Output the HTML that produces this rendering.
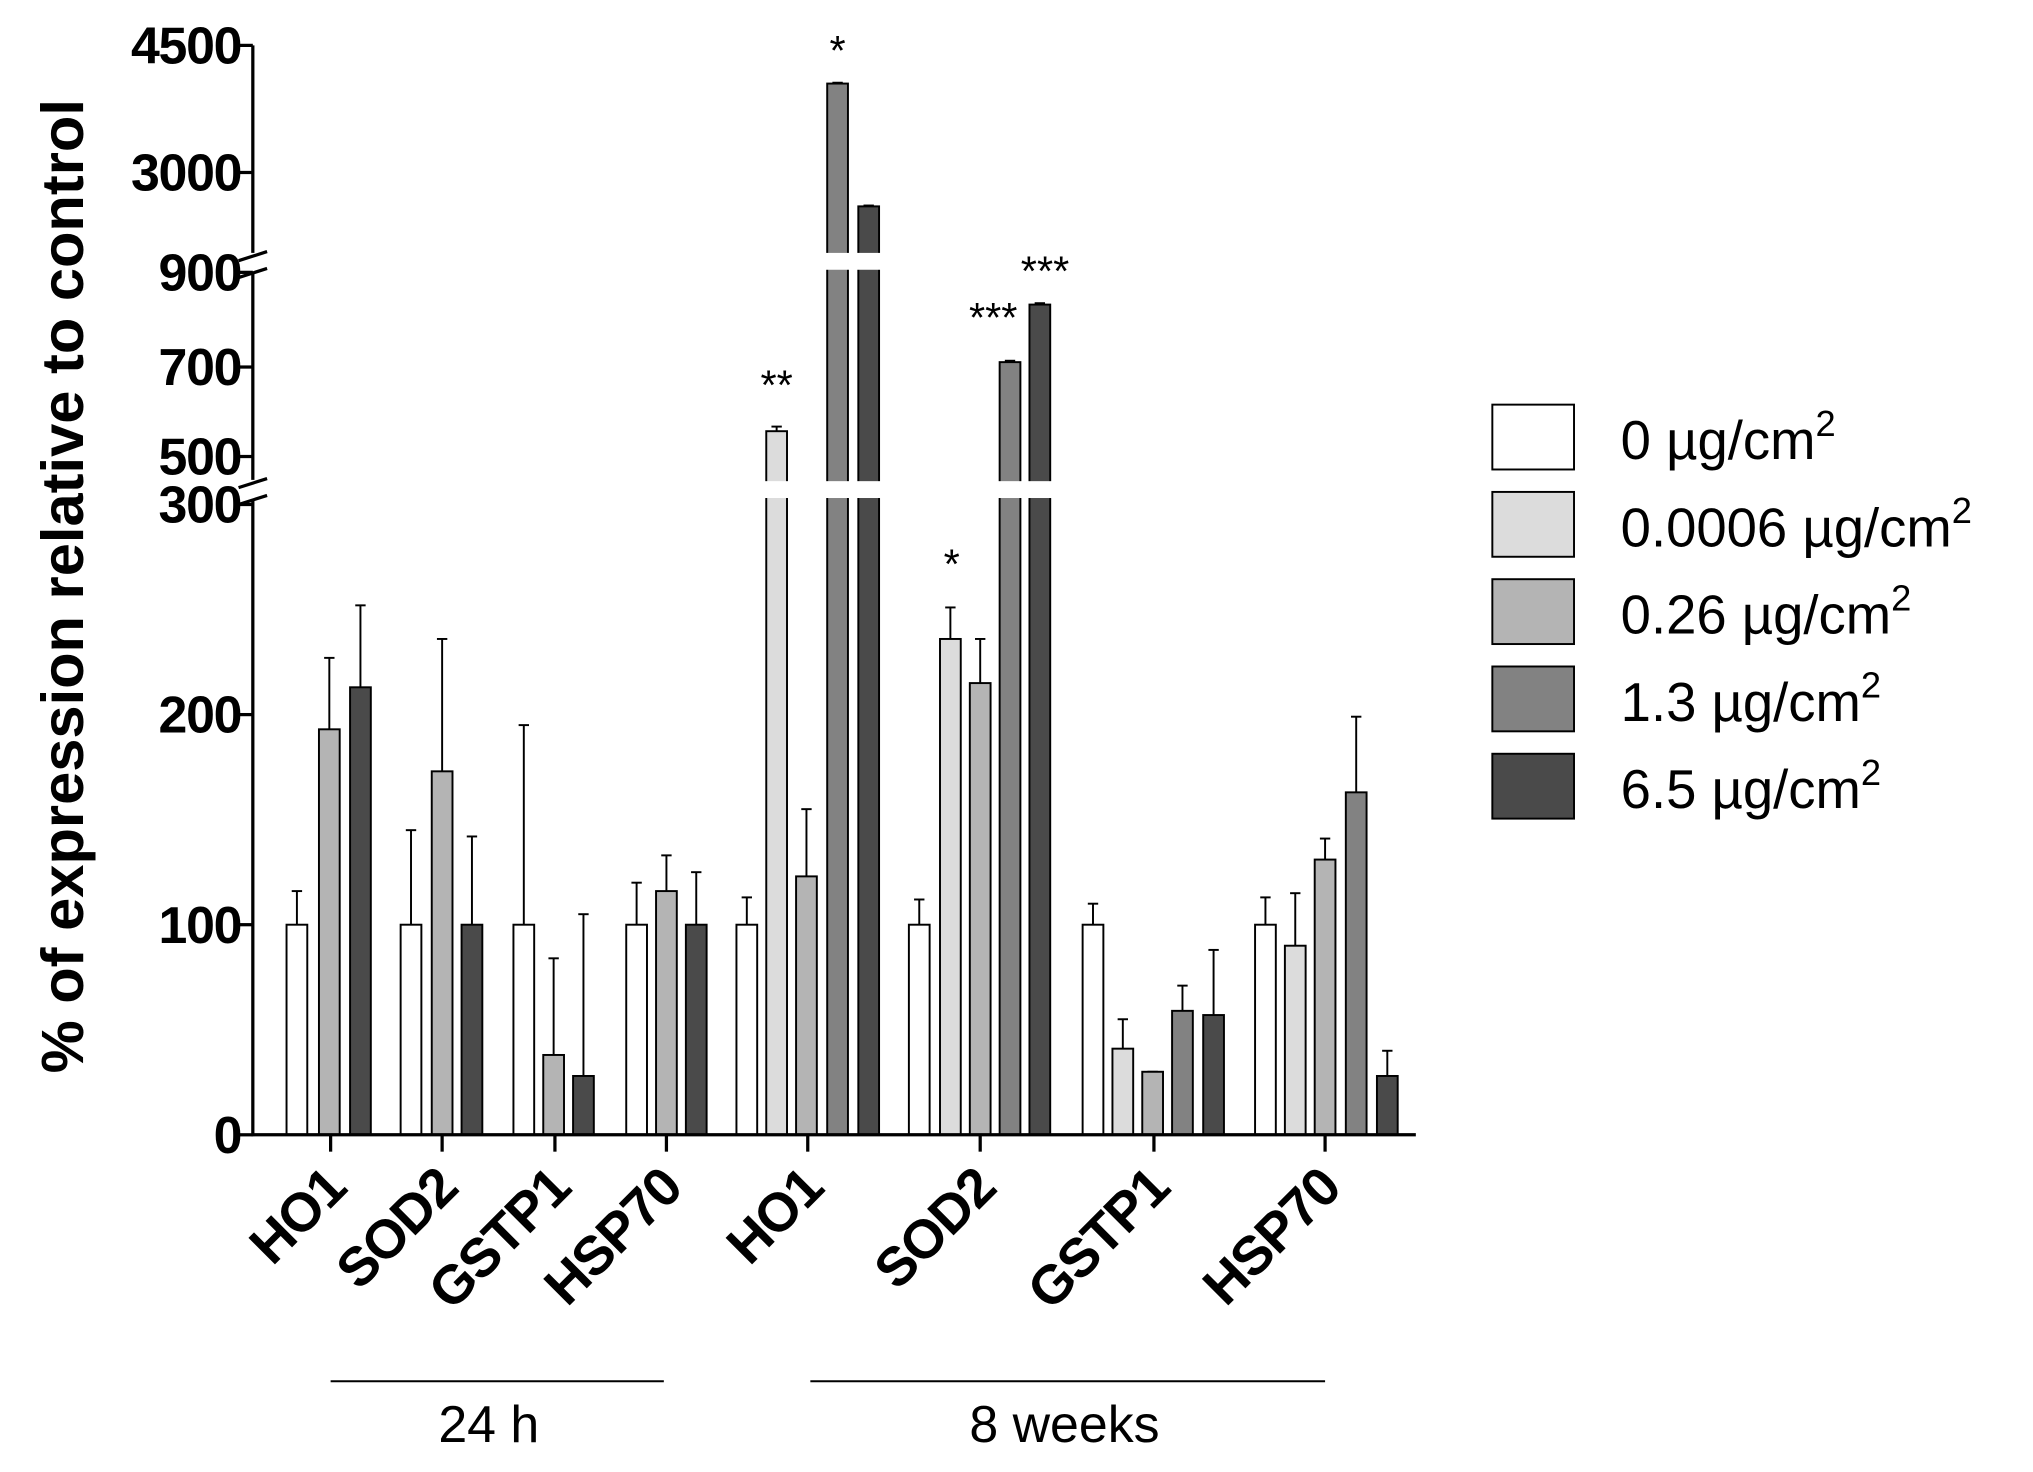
<!DOCTYPE html>
<html><head><meta charset="utf-8"><style>html,body{margin:0;padding:0;background:#fff}svg{display:block}</style></head>
<body>
<svg width="2033" height="1472" viewBox="0 0 1568 1135" preserveAspectRatio="none" xmlns="http://www.w3.org/2000/svg" font-family="Liberation Sans, sans-serif">
<g id="bars" stroke="#000" stroke-width="1.5"></g>
<g id="all"></g>
</svg>
<script>
(function(){
var ns="http://www.w3.org/2000/svg",g=document.getElementById('all'),bars=document.getElementById('bars');
function Y(v){ if(v<=300) return 875-1.62*v; if(v<=900) return 352-(v-500)*0.355; return 133-(v-3000)*0.0653; }
function el(t,a,x,y){var p,txt;if(x&&x.nodeType){p=x;txt=y;}else{txt=x;p=y;}
 var e=document.createElementNS(ns,t);for(var k in a)e.setAttribute(k,a[k]);if(txt!=null)e.textContent=String(txt);(p||g).appendChild(e);return e;}
var C={w:"#ffffff",l:"#dcdcdc",g:"#b4b4b4",m:"#828282",d:"#4a4a4a"};
var data=[
[221,'w',100,116],[246,'g',193,227],[270,'d',213,252],
[309,'w',100,145],[333,'g',173,236],[356,'d',100,142],
[396,'w',100,195],[419,'g',38,84],[442,'d',28,105],
[483,'w',100,120],[506,'g',116,133],[529,'d',100,125],
[568,'w',100,113],[591,'l',555,565],[614,'g',123,155],[638,'m',4050,4060],[662,'d',2600,2610],
[701,'w',100,112],[725,'l',236,251],[748,'g',215,236],[771,'m',705,708],[794,'d',830,833],
[835,'w',100,110],[858,'l',41,55],[881,'g',30,30],[904,'m',59,71],[928,'d',57,88],
[968,'w',100,113],[991,'l',90,115],[1014,'g',131,141],[1038,'m',163,199],[1062,'d',28,40]];
data.forEach(function(b){var x=b[0],w=16,t=Y(b[2]),e=Y(b[3]);
 el('line',{x1:x+w/2,x2:x+w/2,y1:t,y2:e},bars);
 el('line',{x1:x+w/2-4,x2:x+w/2+4,y1:e,y2:e},bars);
 el('rect',{x:x,y:t,width:w,height:875-t,fill:C[b[1]]},bars);
});
el('rect',{x:560,y:371,width:260,height:13,fill:"#fff"});
el('rect',{x:630,y:195,width:60,height:13,fill:"#fff"});
el('line',{x1:195,x2:195,y1:35,y2:195,stroke:"#000","stroke-width":2.5});
el('line',{x1:195,x2:195,y1:210,y2:370,stroke:"#000","stroke-width":2.5});
el('line',{x1:195,x2:195,y1:385,y2:876,stroke:"#000","stroke-width":2.5});
el('line',{x1:194,x2:1092,y1:875,y2:875,stroke:"#000","stroke-width":2.5});
el('path',{d:"M184 201 L206 194 M184 214 L206 207 M184 376 L206 369 M184 389 L206 382",stroke:"#000","stroke-width":2.5,fill:"none"});
[[4500,35],[3000,133],[900,210],[700,283],[500,352],[300,389],[200,551],[100,713],[0,875]].forEach(function(t){
 el('line',{x1:183,x2:195,y1:t[1],y2:t[1],stroke:"#000","stroke-width":2.5});
 el('text',{x:186,y:t[1]+14,"text-anchor":"end","font-size":40,"font-weight":"bold","letter-spacing":-1},t[0]);
});
[255,341,428,514,623,756,890,1022].forEach(function(x){el('line',{x1:x,x2:x,y1:875,y2:888,stroke:"#000","stroke-width":2.5});});
var labs=[[255,"HO1"],[341,"SOD2"],[428,"GSTP1"],[514,"HSP70"],[623,"HO1"],[756,"SOD2"],[890,"GSTP1"],[1022,"HSP70"]];
labs.forEach(function(l){var ax=l[0]+14,ay=918;el('text',{x:ax,y:ay,"text-anchor":"end","font-size":42,"font-weight":"bold","letter-spacing":-1,transform:"rotate(-45 "+ax+" "+ay+")"},l[1]);});
el('line',{x1:255,x2:512,y1:1065,y2:1065,stroke:"#000","stroke-width":1.5});
el('line',{x1:625,x2:1022,y1:1065,y2:1065,stroke:"#000","stroke-width":1.5});
el('text',{x:377,y:1112,"text-anchor":"middle","font-size":40},"24 h");
el('text',{x:821,y:1112,"text-anchor":"middle","font-size":40},"8 weeks");
el('text',{x:0,y:0,"text-anchor":"middle","font-size":46,"font-weight":"bold",transform:"translate(64 452) rotate(-90)"},"% of expression relative to control");
[[599,308,"**"],[646,50,"*"],[734,446,"*"],[766,256,"***"],[806,220,"***"]].forEach(function(s){el('text',{x:s[0],y:s[1],"text-anchor":"middle","font-size":32},s[2]);});
var leg=[["w","0 µg/cm"],["l","0.0006 µg/cm"],["g","0.26 µg/cm"],["m","1.3 µg/cm"],["d","6.5 µg/cm"]];
leg.forEach(function(l,i){var y=312+i*67.3;
 el('rect',{x:1151,y:y,width:63,height:50,fill:C[l[0]],stroke:"#000","stroke-width":1.5});
 var t=el('text',{x:1250,y:y+42,"font-size":42},l[1]);
 el('tspan',{"font-size":28,dy:-18},"2",t);
});
})();
</script>
</body></html>
